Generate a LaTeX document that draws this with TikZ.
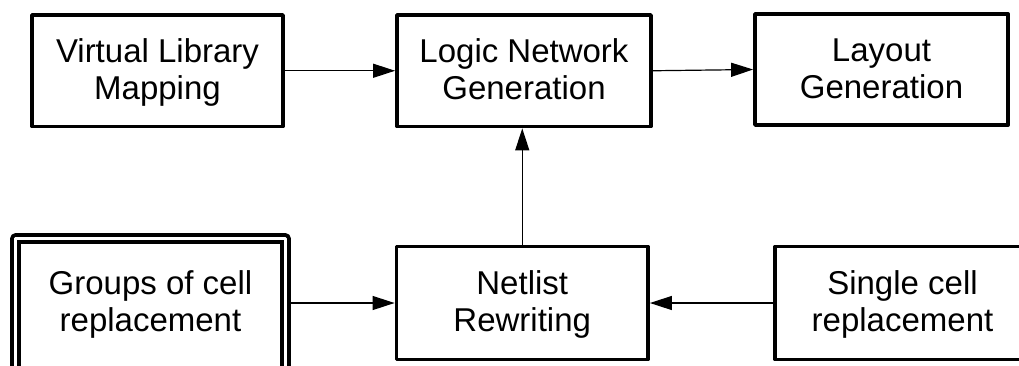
\documentclass[tikz,border=0pt]{standalone}
\usepackage{fontspec}
\setmainfont{Liberation Sans}
\usetikzlibrary{arrows.meta}
% fixed line strut so every two-line label sits at the same height
\newcommand\lsstrut{\rule[-0.22em]{0pt}{1.06em}}
\begin{document}
\begin{tikzpicture}[x=1pt,y=-1pt,
  block/.style={draw, line width=3.8pt, line join=round, align=center,
    inner sep=0pt, font=\fontsize{33}{36.7}\selectfont},
  groupbox/.style={block, double, double distance=3pt, outer sep=5.3pt},
  flow/.style={line width=1.2pt, -{Triangle[length=22pt,width=14pt]}}]
\useasboundingbox (0,0) rectangle (1019,365);

% top row
\node[block, minimum width=251pt, minimum height=111.5pt] (vlm) at (157.5,70.75)
  {\lsstrut Virtual Library\\\lsstrut Mapping};
\node[block, minimum width=254pt, minimum height=111.5pt] (logic) at (524,70.75)
  {\lsstrut Logic Network\\\lsstrut Generation};
\node[block, minimum width=253pt, minimum height=111pt] (layout) at (881.5,69.5)
  {\lsstrut Layout\\\lsstrut Generation};

% bottom row (the double-framed box runs past the lower edge)
\node[block, minimum width=251.5pt, minimum height=113pt] (net) at (522.25,303)
  {\lsstrut Netlist\\\lsstrut Rewriting};
\node[block, minimum width=255pt, minimum height=113pt] (single) at (902.5,303)
  {\lsstrut Single cell\\\lsstrut replacement};
\node[groupbox, minimum width=270pt, minimum height=144pt] (groups) at (150.5,310.5) {};
\node[font=\fontsize{33}{36.7}\selectfont, align=center, inner sep=0pt]
  (groupstext) at (groups.center |- net.center)
  {\lsstrut Groups of cell\\\lsstrut replacement};

% connectors
\draw[flow] (vlm.east) -- (logic.west);
\draw[flow] (logic.east) -- (layout.west);
\draw[flow] (net.north) -- (net.north |- logic.south);
\draw[flow] (groups.east |- net.west) -- (net.west);
\draw[flow] (single.west) -- (net.east);
\end{tikzpicture}
\end{document}
